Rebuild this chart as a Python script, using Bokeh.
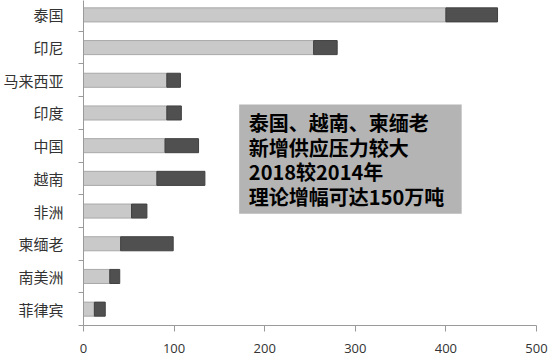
from bokeh.plotting import figure
from bokeh.models import ColumnDataSource, Range1d, FixedTicker, Label, BoxAnnotation
from bokeh.embed import file_html
from bokeh.resources import INLINE

# bottom to top
regions = ["菲律宾", "南美洲", "柬缅老", "非洲", "越南", "中国", "印度", "马来西亚", "印尼", "泰国"]
base_2014 = [12, 29, 41, 53, 81, 90, 92, 92, 254, 400]
increase = [12, 11, 58, 17, 53, 37, 16, 15, 26, 57]
x_ticks = [0, 100, 200, 300, 400, 500]
note_lines = ["泰国、越南、柬缅老", "新增供应压力较大", "2018较2014年", "理论增幅可达150万吨"]

pos = [i + 0.5 for i in range(len(regions))]
src = ColumnDataSource(dict(y=pos, base=base_2014, inc=increase))

p = figure(width=550, height=360, output_backend="svg", toolbar_location=None,
           x_range=Range1d(0, 500), y_range=Range1d(0, 9.94),
           min_border_left=82, min_border_right=14, min_border_top=0, min_border_bottom=35)
p.background_fill_color = "white"
p.border_fill_color = "white"
p.outline_line_color = None
p.grid.visible = False

p.hbar_stack(["base", "inc"], y="y", height=0.43, source=src,
             color=["#c9c9c9", "#505050"], line_color=["#a9a9a9", "#404040"], line_width=1)

# y axis
yax = p.yaxis[0]
yax.ticker = FixedTicker(ticks=pos, minor_ticks=list(range(len(regions) + 1)))
yax.major_label_overrides = {v: r for v, r in zip(pos, regions)}
yax.major_tick_out = 0
yax.major_tick_in = 0
yax.minor_tick_out = 5
yax.minor_tick_in = 0
yax.minor_tick_line_color = "#9a9a9a"
yax.axis_line_color = "#9a9a9a"
yax.major_label_text_font = "Noto Sans CJK SC"
yax.major_label_text_font_size = "15px"
yax.major_label_text_color = "#333333"
yax.major_label_standoff = 15

# x axis
xax = p.xaxis[0]
xax.ticker = FixedTicker(ticks=x_ticks, minor_ticks=[])
xax.major_tick_out = 6
xax.major_tick_in = 0
xax.major_tick_line_color = "#9a9a9a"
xax.axis_line_color = "#9a9a9a"
xax.major_label_text_font = "Open Sans"
xax.major_label_text_font_size = "13px"
xax.major_label_text_color = "#333333"
xax.major_label_standoff = 12

# note box
p.add_layout(BoxAnnotation(left=171.8, right=417.4, bottom=3.42, top=6.76,
                           fill_color="#b4b4b4", fill_alpha=1.0, line_color=None, level="overlay"))
for i, line in enumerate(note_lines):
    p.add_layout(Label(x=182.5, y=6.2 - i * 0.75, text=line, text_font="Noto Sans CJK SC",
                       text_font_size="20px", text_font_style="bold", text_color="black",
                       text_baseline="middle", text_align="left", level="overlay"))

open("out.html", "w").write(file_html(p, INLINE))
